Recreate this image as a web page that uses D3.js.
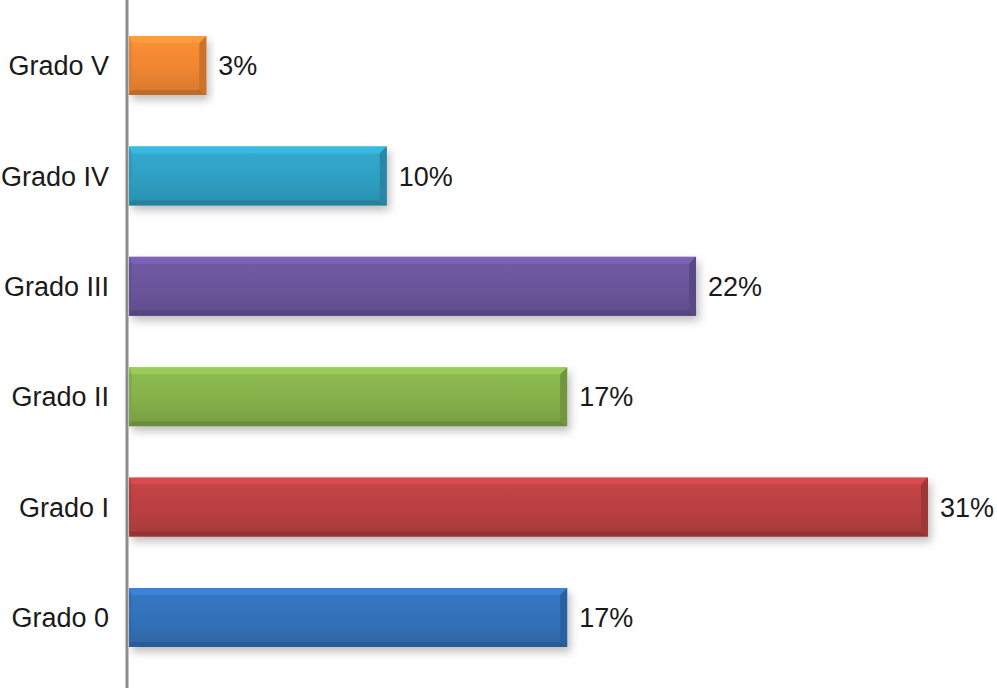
<!DOCTYPE html>
<html>
<head>
<meta charset="utf-8">
<script src="https://cdn.jsdelivr.net/npm/d3@7"></script>
<style>
  body { margin: 0; background: #fff; }
  text { font-family: "Liberation Sans", Arial, sans-serif; fill: #1a1a1a; }
</style>
</head>
<body>
<svg width="997" height="688"></svg>
<script>
var categories = ["Grado V", "Grado IV", "Grado III", "Grado II", "Grado I", "Grado 0"];
var values = [3, 10, 22, 17, 31, 17];
var colors = ["#ee8632", "#2f9fc2", "#6a559b", "#85b04b", "#b94042", "#3371b9"];

var svg = d3.select("svg"),
    width = +svg.attr("width"),
    height = +svg.attr("height");

var x0 = 129;
var x = d3.scaleLinear().domain([0, 31]).range([x0, 928]);
var y = d3.scaleBand().domain(categories).range([10.3, 672.7])
          .paddingInner(0.466).paddingOuter(0.233);

var defs = svg.append("defs");
var shadow = defs.append("filter").attr("id", "shadow")
    .attr("x", "-5%").attr("y", "-20%").attr("width", "115%").attr("height", "160%");
shadow.append("feDropShadow").attr("dx", 3).attr("dy", 5)
    .attr("stdDeviation", 4).attr("flood-color", "#000").attr("flood-opacity", 0.25);

colors.forEach(function(c, i) {
    var g = defs.append("linearGradient").attr("id", "grad" + i)
        .attr("x1", 0).attr("y1", 0).attr("x2", 0).attr("y2", 1);
    g.append("stop").attr("offset", "0%").attr("stop-color", d3.color(c).brighter(0.2));
    g.append("stop").attr("offset", "55%").attr("stop-color", c);
    g.append("stop").attr("offset", "100%").attr("stop-color", d3.color(c).darker(0.3));
});

var bars = svg.selectAll(".bar")
    .data(values)
    .enter().append("g")
    .attr("class", "bar");

var b = 7;
bars.each(function(d, i) {
    var g = d3.select(this);
    var xa = x(0), xb = x(d), ya = y(categories[i]), yb = ya + y.bandwidth();
    var c = d3.color(colors[i]);
    var bb = Math.min(b, (xb - xa) / 2);
    g.append("rect")
        .attr("x", xa).attr("y", ya)
        .attr("width", xb - xa).attr("height", yb - ya)
        .attr("fill", "url(#grad" + i + ")")
        .attr("filter", "url(#shadow)");
    // top bevel
    g.append("path")
        .attr("d", "M" + xa + "," + ya + "L" + xb + "," + ya + "L" + (xb - bb) + "," + (ya + bb) + "L" + xa + "," + (ya + bb) + "Z")
        .attr("fill", c.brighter(0.5)).attr("opacity", 0.75);
    // bottom bevel
    g.append("path")
        .attr("d", "M" + xa + "," + yb + "L" + xb + "," + yb + "L" + (xb - bb) + "," + (yb - bb + 2) + "L" + xa + "," + (yb - bb + 2) + "Z")
        .attr("fill", c.darker(0.7)).attr("opacity", 0.8);
    // right bevel
    g.append("path")
        .attr("d", "M" + xb + "," + ya + "L" + xb + "," + yb + "L" + (xb - bb) + "," + (yb - bb + 2) + "L" + (xb - bb) + "," + (ya + bb) + "Z")
        .attr("fill", c.darker(0.45));
    // left bevel
    g.append("path")
        .attr("d", "M" + xa + "," + ya + "L" + (xa + 3) + "," + (ya + bb) + "L" + (xa + 3) + "," + (yb - bb + 2) + "L" + xa + "," + yb + "Z")
        .attr("fill", c.darker(0.2)).attr("opacity", 0.6);
});

bars.append("text")
    .attr("x", function(d) { return x(d) + 12; })
    .attr("y", function(d, i) { return y(categories[i]) + y.bandwidth() / 2; })
    .attr("dy", "0.36em")
    .attr("font-size", 27)
    .text(function(d) { return d + "%"; });

// category labels
svg.append("g").selectAll("text")
    .data(categories)
    .enter().append("text")
    .attr("x", 109)
    .attr("y", function(d) { return y(d) + y.bandwidth() / 2; })
    .attr("dy", "0.36em")
    .attr("text-anchor", "end")
    .attr("font-size", 27)
    .text(function(d) { return d; });

// axis line
svg.append("line")
    .attr("x1", 127).attr("x2", 127)
    .attr("y1", 0).attr("y2", height)
    .attr("stroke", "#8c8c8c").attr("stroke-width", 3);
</script>
</body>
</html>
